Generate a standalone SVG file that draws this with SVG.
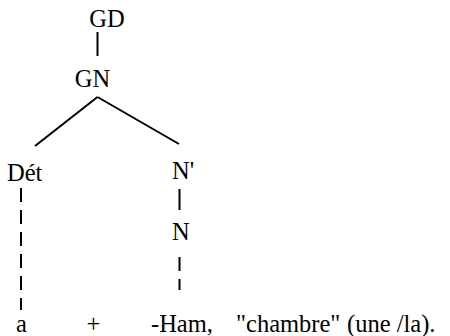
<svg xmlns="http://www.w3.org/2000/svg" width="450" height="336" viewBox="0 0 450 336">
<style>
.t{font-family:'Liberation Serif','Times New Roman',serif;font-size:24.5px;fill:#000}
.l{stroke:#000;stroke-width:2;fill:none}
.d{stroke:#000;stroke-width:2;fill:none;stroke-dasharray:14 8}
</style>
<rect width="450" height="336" fill="#fff"/>
<g id="connectors">
<line class="l" x1="97.5" y1="32" x2="97.5" y2="56"/>
<line class="l" x1="97.5" y1="97" x2="35" y2="146"/>
<line class="l" x1="97.5" y1="97" x2="179" y2="144"/>
<line class="d" x1="21" y1="188" x2="21" y2="310"/>
<line class="l" x1="179.5" y1="189" x2="179.5" y2="210"/>
<line class="d" x1="179.5" y1="257" x2="179.5" y2="290" stroke-dasharray="11 8"/>
</g>
<g id="GD"><text class="t" x="107" y="27" text-anchor="middle">GD</text></g>
<g id="GN"><text class="t" x="92.5" y="87" text-anchor="middle">GN</text></g>
<g id="Det"><text class="t" x="7" y="181">Dét</text></g>
<g id="Nprime"><text class="t" x="172" y="179">N'</text></g>
<g id="N"><text class="t" x="172" y="240">N</text></g>
<g id="bottom">
<text class="t" x="16" y="332">a</text>
<text class="t" x="93.5" y="332" text-anchor="middle">+</text>
<text class="t" x="151" y="332">-Ham,</text>
<text class="t" x="236" y="332">"chambre"</text>
<text class="t" x="347" y="332">(une /la).</text>
</g>
</svg>
